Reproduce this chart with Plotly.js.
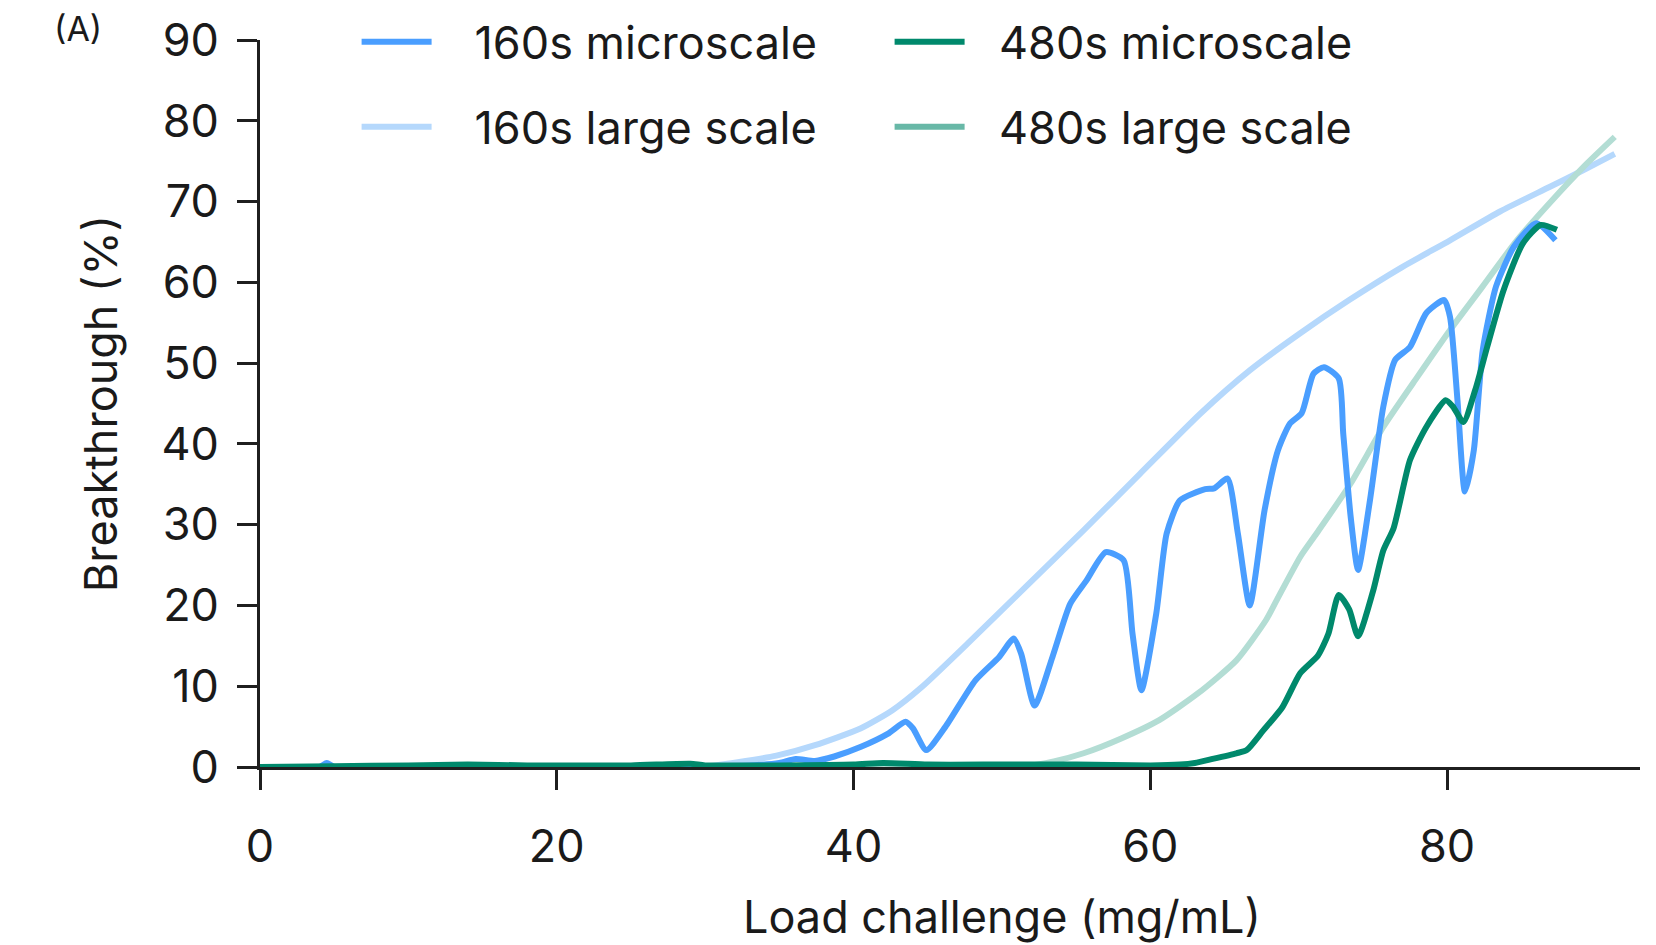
<!DOCTYPE html>
<html>
<head>
<meta charset="utf-8">
<script src="https://cdn.plot.ly/plotly-3.0.1.min.js"></script>
<style>html,body{margin:0;padding:0;background:#fff;}#chart{width:1656px;height:945px;}</style>
</head>
<body>
<div id="chart"></div>
<script>
// ---- data ----
const micro160X = [0, 2, 4, 4.5, 5, 8, 15, 25, 33, 35, 36.1, 37.4, 38.7, 40.5, 42.3, 43.5, 44.0, 44.9, 46.2, 48.2, 49.8, 50.8, 51.3, 52.2, 53.4, 54.6, 55.7, 57.0, 58.2, 58.8, 59.4, 60.4, 61.1, 62.0, 63.7, 64.3, 65.2, 65.9, 66.7, 67.7, 68.6, 69.4, 70.2, 71.0, 71.7, 72.7, 73.0, 73.5, 74.0, 74.8, 75.7, 76.5, 77.5, 78.6, 79.8, 80.2, 80.7, 81.2, 81.8, 82.4, 83.3, 84.5, 86.0, 87.3];
const micro160Y = [0, 0, 0, 0.5, 0, -0.1, 0, 0.1, 0.2, 0.5, 1.0, 0.75, 1.3, 2.5, 4.1, 5.6, 4.8, 2.1, 5.0, 10.7, 13.6, 15.9, 14.0, 7.6, 13.6, 20.2, 23.1, 26.6, 25.6, 16.5, 9.5, 19.0, 28.9, 33.0, 34.4, 34.5, 35.7, 28.9, 20.0, 31.8, 39.2, 42.5, 43.8, 48.7, 49.5, 48.1, 41.3, 31.0, 24.4, 33.0, 44.6, 50.4, 52.0, 56.2, 57.8, 55.7, 45.4, 34.1, 39.2, 51.6, 59.5, 64.4, 67.3, 65.2];

const large160X = [0, 5, 10, 20, 28, 29.7, 32.2, 34.8, 37.4, 40.5, 42.6, 44.6, 47.7, 51.6, 55.5, 59.3, 63.4, 66.7, 70.1, 73.4, 76.8, 80.2, 83.6, 86.9, 89.2, 91.3];
const large160Y = [-0.1, -0.3, -0.3, -0.2, -0.1, 0, 0.6, 1.4, 2.7, 4.8, 7.0, 9.9, 15.3, 22.3, 29.3, 36.3, 43.8, 49.1, 53.7, 57.8, 61.7, 65.2, 68.8, 71.8, 73.9, 75.9];

const micro480X = [0, 5, 10, 14, 18, 25, 29, 30, 35, 40, 42, 45, 50, 55, 60, 62, 63, 64.2, 65.8, 66.5, 67.6, 68.9, 70.1, 71.3, 72.0, 72.7, 73.4, 74.0, 75.0, 75.7, 76.4, 77.5, 78.6, 79.9, 80.4, 81.1, 81.9, 82.7, 83.8, 85.1, 86.3, 87.4];
const micro480Y = [0, 0.1, 0.2, 0.3, 0.2, 0.2, 0.4, 0.2, 0.2, 0.3, 0.5, 0.3, 0.3, 0.3, 0.2, 0.3, 0.5, 1.0, 1.7, 2.1, 4.5, 7.4, 11.6, 13.8, 16.5, 21.3, 19.5, 16.2, 21.7, 26.8, 29.6, 38.0, 42.1, 45.4, 44.6, 42.7, 46.7, 52.0, 59.0, 64.8, 67.1, 66.5];

const large480X = [0, 10, 20, 30, 40, 48, 51.6, 53.5, 55.5, 58.0, 60.6, 63.2, 65.8, 67.8, 68.5, 70.1, 71.2, 73.5, 75.7, 78.0, 80.2, 82.4, 84.7, 86.9, 89.2, 91.3];
const large480Y = [0, 0, 0, 0, 0, 0, 0.1, 0.7, 1.7, 3.5, 5.8, 9.1, 13.2, 18.2, 20.6, 26.0, 28.9, 35.1, 42.1, 48.3, 54.1, 59.5, 65.2, 69.8, 74.3, 78.0];

const seriesNames = ['160s microscale', '480s microscale', '160s large scale', '480s large scale'];
const yTicks = [0, 10, 20, 30, 40, 50, 60, 70, 80, 90];
const xTicks = [0, 20, 40, 60, 80];

// ---- styles ----
const FONT = 'Inter, "Noto Sans", sans-serif';
const TXT = '#1a1a1a';
const FS = 45;
const cBlue = '#4A9EFF', cLightBlue = '#B5D8FC', cGreen = '#00896C', cPaleGreen = '#B3DDD4', cLegendPaleGreen = '#68B8A7';
const LW = 6;
const PAD1 = '\u00A0\u00A0\u00A0';        // gap between line sample and text, first column
const PAD2 = '\u00A0\u00A0\u200A';        // second column

const traces = [
  {x: large160X, y: large160Y, name: PAD1 + seriesNames[2], type: 'scatter', mode: 'lines',
   line: {color: cLightBlue, width: LW, shape: 'spline', smoothing: 0.6}, legend: 'legend2', legendrank: 1},
  {x: large480X, y: large480Y, name: PAD2 + seriesNames[3], type: 'scatter', mode: 'lines',
   line: {color: cPaleGreen, width: LW, shape: 'spline', smoothing: 0.6}, showlegend: false},
  {x: micro160X, y: micro160Y, name: PAD1 + seriesNames[0], type: 'scatter', mode: 'lines',
   line: {color: cBlue, width: LW, shape: 'spline', smoothing: 0.6}, legend: 'legend', legendrank: 1},
  {x: micro480X, y: micro480Y, name: PAD2 + seriesNames[1], type: 'scatter', mode: 'lines',
   line: {color: cGreen, width: LW, shape: 'spline', smoothing: 0.6}, legend: 'legend', legendrank: 2},
  // legend-only entry for the 480s large-scale series
  {x: [null], y: [null], name: PAD2 + seriesNames[3], type: 'scatter', mode: 'lines',
   line: {color: cLegendPaleGreen, width: LW}, legend: 'legend2', legendrank: 2, hoverinfo: 'skip'}
];

const legendCommon = {
  orientation: 'h', xanchor: 'left', yanchor: 'middle', x: 0.07,
  font: {family: FONT, size: FS, color: TXT}, bgcolor: 'rgba(0,0,0,0)',
  entrywidth: 448, entrywidthmode: 'pixels', itemwidth: 70, traceorder: 'normal'
};

const layout = {
  width: 1656, height: 945,
  margin: {l: 260, r: 16, t: 40, b: 178, autoexpand: false},
  paper_bgcolor: '#ffffff', plot_bgcolor: '#ffffff',
  font: {family: FONT, color: TXT, size: FS},
  showlegend: true,
  legend: Object.assign({}, legendCommon, {y: 0.9972}),
  legend2: Object.assign({}, legendCommon, {y: 0.8803}),
  xaxis: {
    range: [0, 93], tickvals: xTicks, ticktext: xTicks.map(String),
    showgrid: false, zeroline: false, showline: true, linecolor: '#1f1f1f', linewidth: 3,
    ticks: 'outside', ticklen: 20, tickwidth: 3, tickcolor: '#1f1f1f',
    tickfont: {family: FONT, size: FS, color: TXT}, ticklabelstandoff: 18
  },
  yaxis: {
    range: [0, 90], tickvals: yTicks, ticktext: yTicks.map(String),
    showgrid: false, zeroline: false, showline: true, linecolor: '#1f1f1f', linewidth: 3,
    ticks: 'outside', ticklen: 20, tickwidth: 3, tickcolor: '#1f1f1f',
    tickfont: {family: FONT, size: FS, color: TXT}, ticklabelstandoff: 9,
    title: {text: 'Breakthrough (%)', font: {family: FONT, size: FS, color: TXT}, standoff: 30}
  },
  annotations: [
    {text: 'Load challenge (mg/mL)', xref: 'paper', yref: 'paper', x: 0.5377, y: -0.206,
     xanchor: 'center', yanchor: 'middle', showarrow: false, font: {family: FONT, size: FS, color: TXT}},
    {text: '(A)', xref: 'paper', yref: 'paper', x: -0.132, y: 1.0157,
     xanchor: 'center', yanchor: 'middle', showarrow: false, font: {family: FONT, size: 34, color: TXT}}
  ]
};

Plotly.newPlot('chart', traces, layout, {displayModeBar: false, staticPlot: true});
</script>
</body>
</html>
